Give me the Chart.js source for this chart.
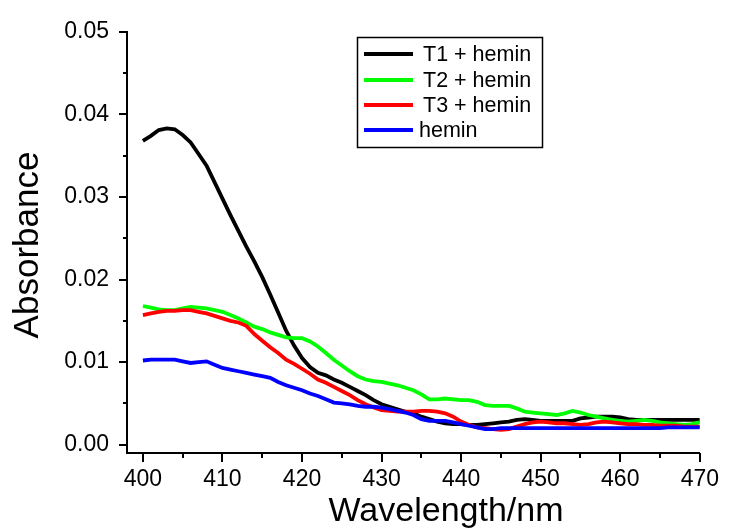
<!DOCTYPE html>
<html><head><meta charset="utf-8">
<script src="https://cdn.jsdelivr.net/npm/chart.js@4.4.1/dist/chart.umd.min.js"></script>
<style>html,body{margin:0;padding:0;background:#fff}#wrap{width:732px;height:529px}</style>
</head><body><div id="wrap"><canvas id="c" width="732" height="529"></canvas></div>
<script>
const wavelengths = [400,401,402,403,404,405,406,407,408,409,410,411,412,413,414,415,416,417,418,419,420,421,422,423,424,425,426,427,428,429,430,431,432,433,434,435,436,437,438,439,440,441,442,443,444,445,446,447,448,449,450,451,452,453,454,455,456,457,458,459,460,461,462,463,464,465,466,467,468,469,470];
const t1Hemin = [0.0368,0.0374,0.0381,0.0383,0.0382,0.0375,0.0366,0.0352,0.0338,0.0318,0.0298,0.0278,0.0259,0.0240,0.0222,0.0203,0.0182,0.0160,0.0138,0.0120,0.0105,0.0094,0.0087,0.0084,0.0079,0.0075,0.0070,0.0065,0.0060,0.0054,0.0049,0.0046,0.0043,0.0040,0.0038,0.0034,0.0031,0.0028,0.0026,0.0025,0.0025,0.0024,0.0024,0.0025,0.0026,0.0027,0.0028,0.0030,0.0031,0.0030,0.0029,0.0029,0.0029,0.0029,0.0029,0.0032,0.0033,0.0034,0.0034,0.0034,0.0033,0.0031,0.0030,0.0030,0.0030,0.0030,0.0030,0.0030,0.0030,0.0030,0.0030];
const t2Hemin = [0.0168,0.0166,0.0164,0.0163,0.0163,0.0165,0.0167,0.0166,0.0165,0.0163,0.0161,0.0157,0.0153,0.0148,0.0143,0.0140,0.0136,0.0133,0.0130,0.0129,0.0129,0.0125,0.0119,0.0111,0.0103,0.0096,0.0089,0.0083,0.0079,0.0077,0.0076,0.0074,0.0072,0.0069,0.0066,0.0061,0.0055,0.0055,0.0056,0.0055,0.0054,0.0054,0.0052,0.0048,0.0047,0.0047,0.0047,0.0044,0.0040,0.0039,0.0038,0.0037,0.0036,0.0038,0.0041,0.0039,0.0036,0.0034,0.0032,0.0030,0.0029,0.0028,0.0029,0.0030,0.0029,0.0027,0.0026,0.0025,0.0024,0.0025,0.0027];
const t3Hemin = [0.0157,0.0159,0.0161,0.0162,0.0162,0.0163,0.0163,0.0161,0.0159,0.0156,0.0153,0.0150,0.0148,0.0144,0.0134,0.0126,0.0118,0.0111,0.0103,0.0098,0.0092,0.0086,0.0079,0.0075,0.0070,0.0065,0.0060,0.0054,0.0049,0.0045,0.0042,0.0041,0.0040,0.0040,0.0040,0.0041,0.0041,0.0040,0.0038,0.0034,0.0028,0.0024,0.0021,0.0020,0.0019,0.0018,0.0019,0.0022,0.0025,0.0027,0.0028,0.0027,0.0026,0.0026,0.0025,0.0024,0.0025,0.0027,0.0028,0.0027,0.0026,0.0025,0.0025,0.0024,0.0024,0.0023,0.0023,0.0023,0.0022,0.0022,0.0022];
const hemin = [0.0102,0.0103,0.0103,0.0103,0.0103,0.0101,0.0099,0.0100,0.0101,0.0097,0.0093,0.0091,0.0089,0.0087,0.0085,0.0083,0.0081,0.0076,0.0072,0.0069,0.0066,0.0062,0.0059,0.0055,0.0051,0.0050,0.0049,0.0047,0.0046,0.0046,0.0045,0.0043,0.0041,0.0039,0.0036,0.0031,0.0029,0.0029,0.0029,0.0027,0.0025,0.0023,0.0021,0.0019,0.0019,0.0020,0.0020,0.0020,0.0020,0.0020,0.0020,0.0020,0.0020,0.0020,0.0020,0.0020,0.0020,0.0020,0.0020,0.0020,0.0020,0.0020,0.0020,0.0020,0.0020,0.0020,0.0021,0.0021,0.0021,0.0021,0.0021];
const seriesNames = ['T1 + hemin','T2 + hemin','T3 + hemin','hemin'];
const seriesColors = ['#000000','#00ff00','#ff0000','#0000ff'];
const xTickLabels = [400,410,420,430,440,450,460,470];
const yTickLabels = [0.00,0.01,0.02,0.03,0.04,0.05];
const xTitle = 'Wavelength/nm';
const yTitle = 'Absorbance';

const FONT = "'Liberation Sans', Arial, sans-serif";
const seriesData = [t1Hemin, t2Hemin, t3Hemin, hemin];

const datasets = seriesData.map((arr, i) => ({
  label: seriesNames[i],
  data: arr.map((v, j) => ({x: wavelengths[j], y: v})),
  borderColor: seriesColors[i],
  backgroundColor: seriesColors[i],
  borderWidth: 3.8,
  pointRadius: 0,
  tension: 0,
  fill: false,
  order: 4 - i
}));

const decorPlugin = {
  id: 'decor',
  afterDraw(chart) {
    const ctx = chart.ctx;
    const xs = chart.scales.x, ys = chart.scales.y;
    const area = chart.chartArea;
    ctx.save();
    ctx.strokeStyle = '#000';
    ctx.lineWidth = 2;
    for (let v = 400; v <= 470; v += 5) {
      const px = Math.round(xs.getPixelForValue(v));
      const len = (v % 10 === 0) ? 9 : 5;
      ctx.beginPath();
      ctx.moveTo(px, area.bottom);
      ctx.lineTo(px, area.bottom + len);
      ctx.stroke();
    }
    for (let k = 0; k <= 10; k++) {
      const v = k * 0.005;
      const py = Math.round(ys.getPixelForValue(v));
      const len = (k % 2 === 0) ? 8 : 4;
      ctx.beginPath();
      ctx.moveTo(area.left, py);
      ctx.lineTo(area.left - len, py);
      ctx.stroke();
    }
    ctx.fillStyle = '#000';
    ctx.font = "34px " + FONT;
    ctx.textAlign = 'center';
    ctx.textBaseline = 'alphabetic';
    ctx.fillText(xTitle, 446, 521);
    ctx.save();
    ctx.translate(38, 245);
    ctx.rotate(-Math.PI / 2);
    ctx.font = "35px " + FONT;
    ctx.fillText(yTitle, 0, 0);
    ctx.restore();
    const bx = 357, by = 37, bw = 185, bh = 110;
    ctx.lineWidth = 1.5;
    ctx.strokeStyle = '#000';
    ctx.strokeRect(bx + 0.5, by + 0.5, bw, bh);
    const rows = [54, 80, 105, 130];
    ctx.font = "21.5px " + FONT;
    ctx.textAlign = 'left';
    ctx.textBaseline = 'middle';
    chart.data.datasets.forEach((ds, i) => {
      ctx.strokeStyle = ds.borderColor;
      ctx.lineWidth = 4;
      ctx.beginPath();
      ctx.moveTo(364, rows[i]);
      ctx.lineTo(413, rows[i]);
      ctx.stroke();
      ctx.fillStyle = '#000';
      const tx = ds.label === 'hemin' ? 419 : 423;
      ctx.fillText(ds.label, tx, rows[i] + 1);
    });
    ctx.restore();
  }
};

new Chart(document.getElementById('c'), {
  type: 'line',
  data: { datasets },
  options: {
    responsive: false,
    devicePixelRatio: 1,
    animation: false,
    layout: { padding: { top: 29, right: 24, left: 0, bottom: 0 } },
    plugins: { legend: { display: false }, tooltip: { enabled: false } },
    scales: {
      x: {
        type: 'linear',
        min: 398, max: 470,
        afterBuildTicks: s => { s.ticks = xTickLabels.map(v => ({ value: v })); },
        afterFit: s => { s.height = 76; },
        grid: { display: false, drawTicks: false },
        border: { display: true, color: '#000', width: 2 },
        ticks: { color: '#000', font: { family: FONT, size: 23 }, padding: 13, maxRotation: 0, autoSkip: false,
                 callback: v => String(v) }
      },
      y: {
        type: 'linear',
        min: -0.001, max: 0.05,
        afterBuildTicks: s => { s.ticks = yTickLabels.map(v => ({ value: v })); },
        afterFit: s => { s.width = 127; },
        grid: { display: false, drawTicks: false },
        border: { display: true, color: '#000', width: 2 },
        ticks: { color: '#000', font: { family: FONT, size: 23 }, padding: 18, autoSkip: false,
                 callback: v => Number(v).toFixed(2) }
      }
    }
  },
  plugins: [decorPlugin]
});
</script></body></html>
